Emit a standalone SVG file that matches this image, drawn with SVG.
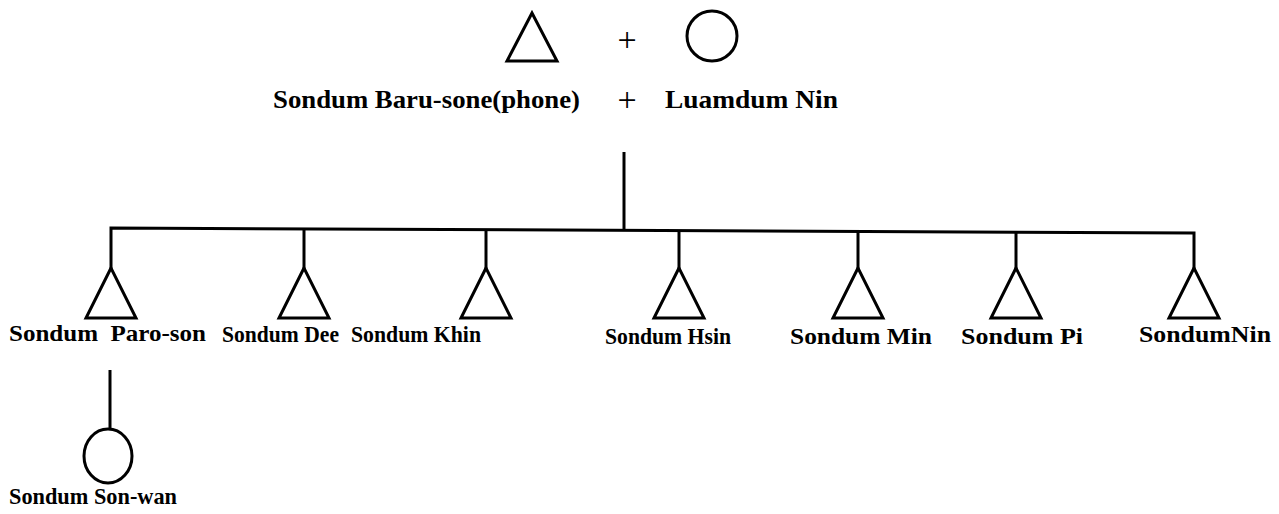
<svg xmlns="http://www.w3.org/2000/svg" width="1279" height="514" viewBox="0 0 1279 514">
  <style>
    .sym { fill: none; stroke: #000; stroke-width: 3; stroke-linejoin: miter; }
    .line { fill: none; stroke: #000; stroke-width: 3; }
    .lbl { font-family: "Liberation Serif", "Times New Roman", serif; font-weight: bold; font-size: 24px; fill: #000; }
    .big { font-size: 26px; }
    .plus { font-family: "Liberation Serif", "Times New Roman", serif; font-size: 34px; fill: #000; }
  </style>

  <!-- founding couple: symbols -->
  <g id="founder-male">
    <polygon class="sym" points="532,13 507,61 557,61"/>
  </g>
  <text class="plus" x="627" y="51" text-anchor="middle">+</text>
  <g id="founder-female">
    <circle class="sym" cx="712" cy="36" r="25"/>
  </g>

  <!-- founding couple: names -->
  <g id="founder-names">
    <text class="lbl big" x="273" y="108" textLength="307" lengthAdjust="spacingAndGlyphs">Sondum Baru-sone(phone)</text>
    <text class="plus" x="627" y="111" text-anchor="middle">+</text>
    <text class="lbl big" x="665" y="108" textLength="173" lengthAdjust="spacingAndGlyphs">Luamdum Nin</text>
  </g>

  <!-- descent lines -->
  <g id="connectors">
    <line class="line" x1="624" y1="152" x2="624" y2="229"/>
    <path class="line" d="M111,270 V228 L1194,233 V270"/>
    <line class="line" x1="304" y1="229" x2="304" y2="270"/>
    <line class="line" x1="486" y1="229" x2="486" y2="270"/>
    <line class="line" x1="679" y1="230" x2="679" y2="270"/>
    <line class="line" x1="858" y1="231" x2="858" y2="270"/>
    <line class="line" x1="1016" y1="232" x2="1016" y2="270"/>
    <line class="line" x1="110" y1="370" x2="110" y2="430"/>
  </g>

  <!-- sons -->
  <g id="son-paro-son">
    <polygon class="sym" points="111,268 86,318 136,318"/>
    <text class="lbl" x="9" y="341" xml:space="preserve" textLength="197" lengthAdjust="spacingAndGlyphs">Sondum  Paro-son</text>
  </g>
  <g id="son-dee">
    <polygon class="sym" points="304,268 279,318 329,318"/>
    <text class="lbl" x="222" y="342" textLength="117" lengthAdjust="spacingAndGlyphs">Sondum Dee</text>
  </g>
  <g id="son-khin">
    <polygon class="sym" points="486,268 461,318 511,318"/>
    <text class="lbl" x="351" y="342" textLength="130" lengthAdjust="spacingAndGlyphs">Sondum Khin</text>
  </g>
  <g id="son-hsin">
    <polygon class="sym" points="679,268 654,318 704,318"/>
    <text class="lbl" x="605" y="344" textLength="126" lengthAdjust="spacingAndGlyphs">Sondum Hsin</text>
  </g>
  <g id="son-min">
    <polygon class="sym" points="858,268 833,318 883,318"/>
    <text class="lbl" x="790" y="344" textLength="142" lengthAdjust="spacingAndGlyphs">Sondum Min</text>
  </g>
  <g id="son-pi">
    <polygon class="sym" points="1016,268 991,318 1041,318"/>
    <text class="lbl" x="961" y="344" textLength="122" lengthAdjust="spacingAndGlyphs">Sondum Pi</text>
  </g>
  <g id="son-nin">
    <polygon class="sym" points="1194,268 1169,318 1219,318"/>
    <text class="lbl" x="1139" y="342" textLength="132" lengthAdjust="spacingAndGlyphs">SondumNin</text>
  </g>

  <!-- grandchild -->
  <g id="daughter-son-wan">
    <ellipse class="sym" cx="108" cy="456" rx="24" ry="27"/>
    <text class="lbl" x="9" y="504" textLength="168" lengthAdjust="spacingAndGlyphs">Sondum Son-wan</text>
  </g>
</svg>
